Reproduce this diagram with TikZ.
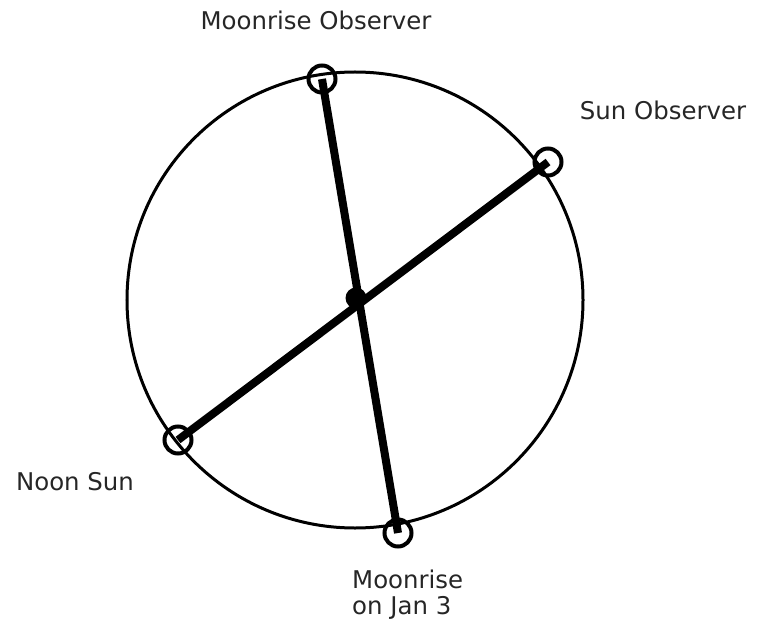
\documentclass[tikz,border=0pt]{standalone}
\usepackage{fontspec}
\setmainfont{DejaVu Sans}
\begin{document}
\begin{tikzpicture}[x=1bp,y=-1bp,
  knot/.style={circle,draw,line width=4bp,minimum size=27bp,inner sep=0pt},
  hub/.style={circle,fill,minimum size=21bp,inner sep=0pt},
  rod/.style={line width=8bp},
  lbl/.style={font=\fontsize{24.5}{26}\selectfont,text=black!85,inner sep=0pt}]
\useasboundingbox (0,0) rectangle (759,623);
\node[draw,circle,line width=3bp,minimum size=456bp,inner sep=0pt] (ring) at (355,300) {};
\node[knot] (mo) at (322,79) {};
\node[knot] (mj) at (398,533) {};
\node[knot] (so) at (548,162) {};
\node[knot] (ns) at (178,440) {};
\node[hub] (c) at (356,298) {};
\draw[rod] (mo.center) -- (mj.center);
\draw[rod] (so.center) -- (ns.center);
\node[lbl] (t1) at (316,20) {Moonrise Observer};
\node[lbl] (t2) at (663,110) {Sun Observer};
\node[lbl] (t3) at (75,482) {Noon Sun};
\node[lbl,align=left,anchor=west] (t4) at (352,595) {Moonrise\\on Jan 3};
\end{tikzpicture}
\end{document}
